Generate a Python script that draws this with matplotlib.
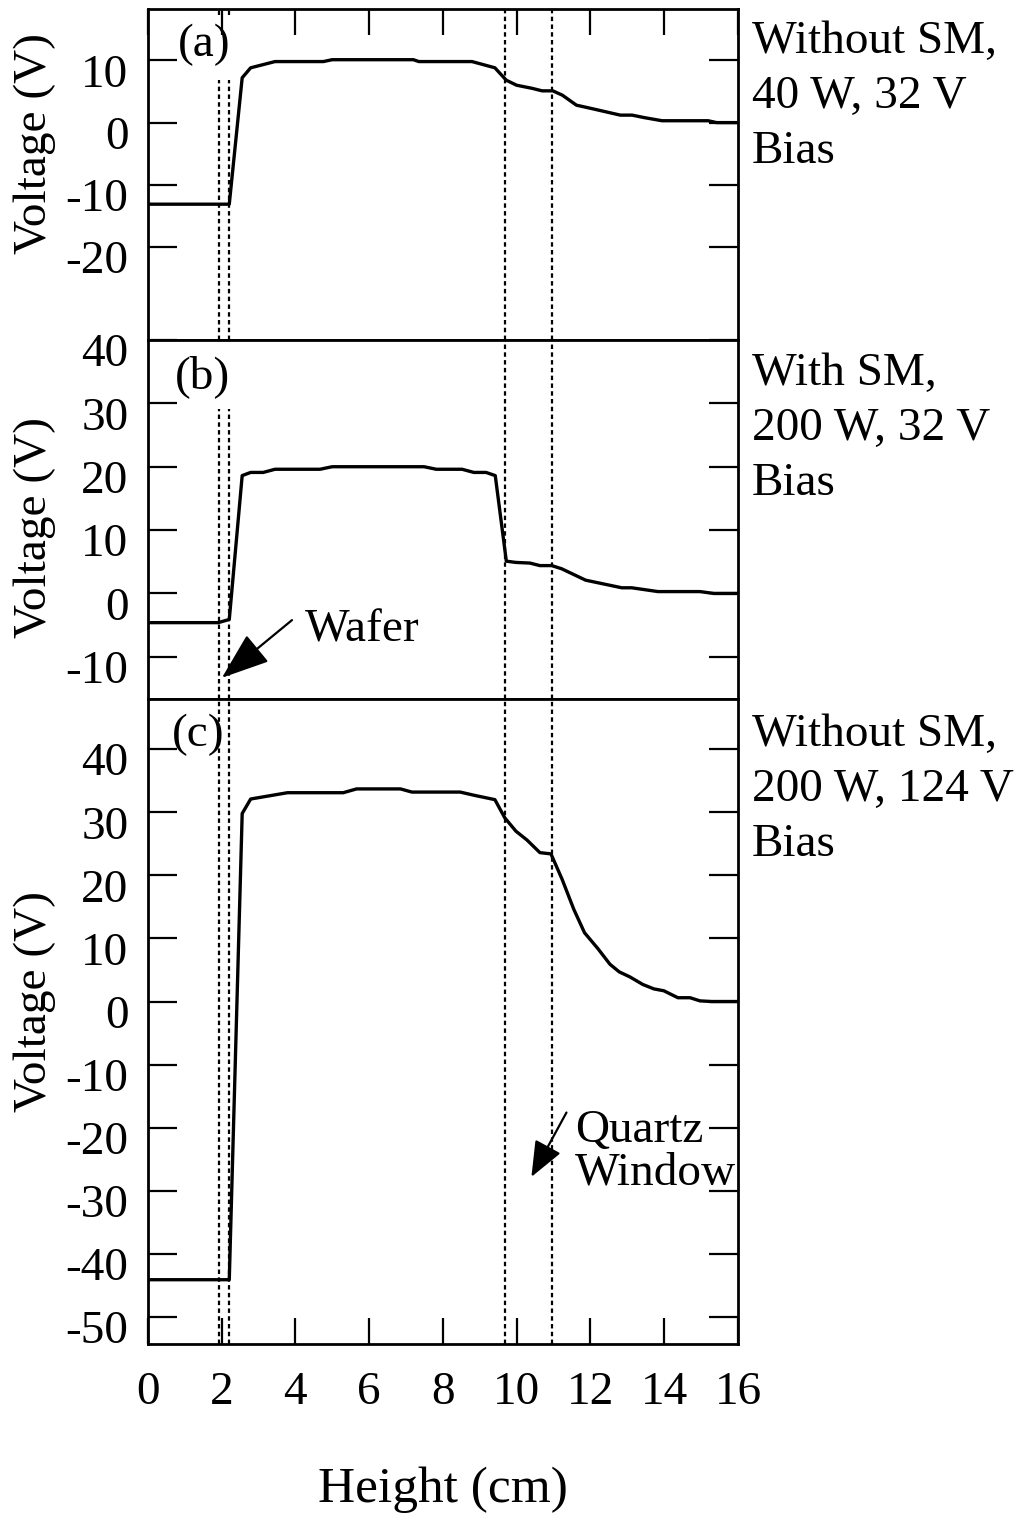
import numpy as np
import matplotlib
matplotlib.use("Agg")
import matplotlib.pyplot as plt
from matplotlib.transforms import ScaledTranslation

plt.rcParams['font.family'] = ['Liberation Serif', 'DejaVu Serif']
plt.rcParams['axes.unicode_minus'] = False

# height (cm) / voltage (V) profiles
height_a = [0, 2.21, 2.56, 2.79, 3.45, 4.76, 5.0, 7.2, 7.35, 8.79, 9.41, 9.72, 10.0,
            10.42, 10.69, 10.98, 11.24, 11.62, 12.0, 12.81, 13.13, 13.46, 13.94,
            15.19, 15.42, 16]
volt_a = [-13.1, -13.1, 7.2, 8.8, 9.8, 9.8, 10.1, 10.1, 9.8, 9.8, 8.8, 6.8, 6.0,
          5.5, 5.1, 5.1, 4.4, 2.8, 2.3, 1.2, 1.2, 0.8, 0.3,
          0.3, 0.0, 0.0]

height_b = [0, 1.91, 2.21, 2.56, 2.79, 3.13, 3.45, 4.67, 5.0, 7.49, 7.82, 8.52, 8.84,
            9.17, 9.42, 9.72, 9.98, 10.36, 10.63, 10.95, 11.22, 11.87, 12.85, 13.12,
            13.83, 14.97, 15.35, 16]
volt_b = [-4.6, -4.6, -4.1, 18.6, 19.1, 19.1, 19.6, 19.6, 20.0, 20.0, 19.6, 19.6, 19.1,
          19.1, 18.6, 5.1, 4.9, 4.8, 4.4, 4.4, 3.9, 2.1, 0.9, 0.9,
          0.3, 0.3, 0.0, 0.0]

height_c = [0, 2.21, 2.56, 2.79, 3.79, 5.3, 5.66, 6.85, 7.16, 8.47, 8.84, 9.41, 9.68,
            9.98, 10.28, 10.63, 10.93, 11.23, 11.55, 11.84, 12.2, 12.53, 12.78, 13.07,
            13.42, 13.72, 13.99, 14.37, 14.7, 14.97, 15.29, 16]
volt_c = [-44.1, -44.1, 29.8, 32.1, 33.1, 33.1, 33.7, 33.7, 33.2, 33.2, 32.7, 32.0, 29.1,
          27.0, 25.6, 23.6, 23.4, 19.4, 14.6, 10.9, 8.4, 5.9, 4.7, 3.9,
          2.7, 2.0, 1.7, 0.6, 0.6, 0.1, 0.0, 0.0]

wafer_x = [1.94, 2.21]
window_x = [9.69, 10.97]

x_ticks = [0, 2, 4, 6, 8, 10, 12, 14, 16]
y_ticks_a = [-20, -10, 0, 10]
y_ticks_b = [-10, 0, 10, 20, 30, 40]
y_ticks_c = [-50, -40, -30, -20, -10, 0, 10, 20, 30, 40]

captions = ['Without SM,\n40 W, 32 V\nBias',
            'With SM,\n200 W, 32 V\nBias',
            'Without SM,\n200 W, 124 V\nBias']

FS = 34
fig = plt.figure(figsize=(10.26, 15.17), dpi=100)
L, W = 0.144, 0.5753
ax_a = fig.add_axes([L, 0.7759, W, 0.218])
ax_b = fig.add_axes([L, 0.539, W, 0.2369])
ax_c = fig.add_axes([L, 0.114, W, 0.425])

setup = [(ax_a, height_a, volt_a, (-34.9, 18.2), y_ticks_a),
         (ax_b, height_b, volt_b, (-16.7, 40.0), y_ticks_b),
         (ax_c, height_c, volt_c, (-54.3, 47.9), y_ticks_c)]

for ax, h, v, lim, yt in setup:
    ax.plot(h, v, color='k', lw=2.4, solid_joinstyle='round')
    ax.set_xlim(0, 16)
    ax.set_ylim(*lim)
    ax.set_xticks(x_ticks)
    ax.set_yticks(yt)
    for sp in ax.spines.values():
        sp.set_linewidth(2)
    ax.tick_params(axis='y', direction='in', length=21, width=1.6,
                   left=True, right=True, labelsize=FS, pad=14)
    ax.tick_params(axis='x', direction='in', length=19, width=1.6,
                   labelsize=FS, pad=20)
    for lab in ax.get_yticklabels():
        lab.set_transform(lab.get_transform() +
                          ScaledTranslation(0, -0.10, fig.dpi_scale_trans))
    # dotted markers for the quartz window
    for xv in window_x:
        ax.axvline(xv, color='k', lw=1.6, ls=(0, (2, 1.5)))

ax_a.tick_params(axis='x', bottom=False, top=True, labelbottom=False)
ax_b.tick_params(axis='x', bottom=False, top=False, labelbottom=False)
ax_c.tick_params(axis='x', bottom=True, top=False, labelbottom=True)

# wafer markers, interrupted behind the (a)/(b) labels
dot = dict(color='k', lw=1.6, ls=(0, (2, 1.5)))
for xv in wafer_x:
    ax_a.vlines(xv, -34.9, 6.9, **dot)
    ax_a.vlines(xv, 17.2, 18.2, **dot)
    ax_b.vlines(xv, -16.7, 29.1, **dot)
    ax_c.axvline(xv, **dot)

# panel tags
fig.text(178 / 1026, 1 - 45 / 1517, '(a)', fontsize=FS, ha='left', va='center')
fig.text(175 / 1026, 1 - 377 / 1517, '(b)', fontsize=FS, ha='left', va='center')
fig.text(172 / 1026, 1 - 735 / 1517, '(c)', fontsize=FS, ha='left', va='center')

# condition captions on the right
for txt, ytop in zip(captions, [21, 353, 714]):
    fig.text(752 / 1026, 1 - ytop / 1517, txt, fontsize=FS, ha='left', va='top',
             linespacing=1.38)

# y labels
for yc in [143, 527, 1002]:
    fig.text(35 / 1026, 1 - yc / 1517, 'Voltage (V)', fontsize=FS, rotation=90,
             ha='center', va='center')

fig.text(443 / 1026, 1 - 1490 / 1517, 'Height (cm)', fontsize=37,
         ha='center', va='center')

ax_b.annotate('', xy=(2.01, -13.3), xytext=(3.91, -4.2),
              arrowprops=dict(arrowstyle='-|>,head_length=1.5,head_width=0.55',
                              mutation_scale=20, lw=1.6, color='k',
                              shrinkA=0, shrinkB=0))
ax_b.text(4.27, -5.8, 'Wafer', fontsize=FS, ha='left', va='center')

ax_c.annotate('', xy=(10.4, -27.8), xytext=(11.35, -17.6),
              arrowprops=dict(arrowstyle='-|>,head_length=1.1,head_width=0.45',
                              mutation_scale=20, lw=1.6, color='k',
                              shrinkA=0, shrinkB=0))
ax_c.text(11.59, -23.8, 'Quartz\nWindow', fontsize=FS, ha='left', va='center',
          linespacing=1.0)

fig.savefig('out.png', dpi=100, facecolor='white')
